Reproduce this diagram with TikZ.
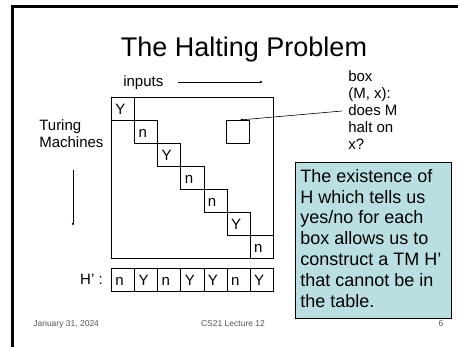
\documentclass[tikz,border=0pt]{standalone}
\usepackage{fontspec}
\setmainfont{Liberation Sans}
\usetikzlibrary{arrows.meta}
\definecolor{notebg}{RGB}{186,223,227}
\definecolor{footgray}{RGB}{85,85,85}
\begin{document}
\begin{tikzpicture}[x=1pt,y=-1pt,line width=.6pt,
 cell/.style={draw,minimum width=23.14pt,minimum height=23pt,inner sep=0pt,anchor=north west,
 text height=10.7pt,text depth=0pt,font=\fontsize{15}{17}\selectfont},
 lbl/.style={inner sep=0pt,font=\fontsize{15}{17}\selectfont},
 tip/.style={-{Latex[length=3pt,width=2.6pt]}},
 foot/.style={inner sep=0pt,anchor=base,text=footgray,font=\fontsize{8.5}{10}\selectfont}]
\useasboundingbox (0,0) rectangle (458,347);
\draw[line width=3pt] (11,6.5) -- (458,6.5); \draw[line width=3pt] (12.5,5) -- (12.5,347);
\node[anchor=base,inner sep=0pt,font=\fontsize{27}{32}\selectfont] (title) at (244,57) {The Halting Problem};
\node[lbl,anchor=base west] (inp) at (123,87) {inputs};
\coordinate (ia) at (178,82); \coordinate (ib) at (263,82); \draw[tip] (ia) -- (ib);
\node[lbl,align=left,anchor=north west] (tm) at (39,119) {Turing\\Machines};
\coordinate (ta) at (73,170); \coordinate (tb) at (73,226); \draw[tip] (ta) -- (tb);
% table of machines against inputs
\node[draw,minimum width=162pt,minimum height=161pt,inner sep=0pt,anchor=north west] (tbl) at (111,97) {};
\foreach \v [count=\i from 0] in {Y,n,Y,n,n,Y,n}
 \node[cell] (d\i) at (111+\i*23.14,97+\i*23) {\makebox[15pt][l]{\v}};
\node[draw,minimum size=23pt,inner sep=0pt,anchor=north west] (qbox) at (226,120) {};
\node[lbl,align=left,anchor=north west] (qtext) at (348,70) {box\\(M, x):\\does M\\halt on\\x?};
\coordinate (qa) at (342,111); \draw[tip] (qa) -- ([xshift=2pt]qbox.north);
% the row H'
\node[lbl,anchor=base east] (hlab) at (103,285) {H’ :};
\foreach \v [count=\i from 0] in {n,Y,n,Y,Y,n,Y}
 \node[cell] (h\i) at (111+\i*23.14,268) {\makebox[15pt][l]{\v}};
\node[draw,fill=notebg,minimum width=156pt,minimum height=156pt,inner sep=0pt,anchor=north west] (note) at (295,162) {};
\node[align=left,anchor=north west,inner sep=0pt,font=\fontsize{18}{20.8}\selectfont] (notetext) at (300,169)
 {The existence of\\H which tells us\\yes/no for each\\box allows us to\\construct a TM H’\\that cannot be in\\the table.};
\node[foot,anchor=base west] (fdate) at (33,327) {January 31, 2024};
\node[foot] (fname) at (233,327) {CS21 Lecture 12};
\node[foot] (fpage) at (441,327) {6};
\end{tikzpicture}
\end{document}
